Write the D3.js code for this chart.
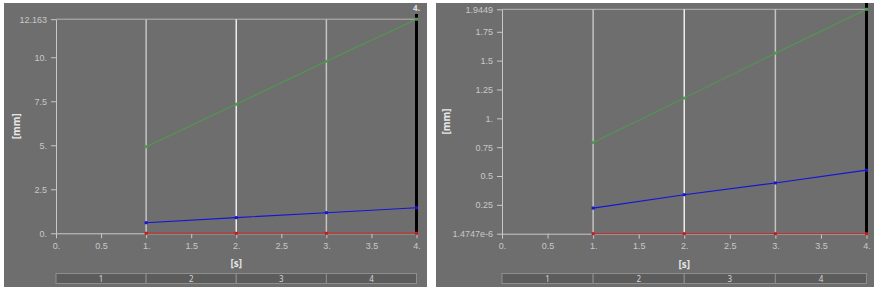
<!DOCTYPE html>
<html>
<head>
<meta charset="utf-8">
<script src="https://cdn.jsdelivr.net/npm/d3@7"></script>
<style>
  body { margin: 0; background: #fff; }
  svg { display: block; font-family: "Noto Sans", "Open Sans", sans-serif; }
</style>
</head>
<body>
<div id="chart-area"></div>
<script>
const width = 874, height = 291;

// Data
const times = [1, 2, 3, 4];
const steps = ["1", "2", "3", "4"];
const xTicks = [0, 0.5, 1, 1.5, 2, 2.5, 3, 3.5, 4];
const xTickLabels = ["0.", "0.5", "1.", "1.5", "2.", "2.5", "3.", "3.5", "4."];

const leftGreen = [4.92, 7.33, 9.77, 12.163];
const leftBlue = [0.60, 0.89, 1.17, 1.45];
const leftRed = [0, 0, 0, 0];
const leftYTicks = [0, 2.5, 5, 7.5, 10, 12.163];
const leftYLabels = ["0.", "2.5", "5.", "7.5", "10.", "12.163"];

const rightGreen = [0.79, 1.175, 1.565, 1.9449];
const rightBlue = [0.222, 0.338, 0.44, 0.551];
const rightRed = [0.0000014747, 0.0000014747, 0.0000014747, 0.0000014747];
const rightYTicks = [0.0000014747, 0.25, 0.5, 0.75, 1, 1.25, 1.5, 1.75, 1.9449];
const rightYLabels = ["1.4747e-6", "0.25", "0.5", "0.75", "1.", "1.25", "1.5", "1.75", "1.9449"];

const seriesColors = {green: "#4f9a4f", blue: "#1515d8", red: "#c41a1a"};

const svg = d3.select("#chart-area").append("svg")
    .attr("width", width)
    .attr("height", height);

function drawPanel(p) {
    const g = svg.append("g");

    g.append("rect")
        .attr("x", p.box[0]).attr("y", p.box[1])
        .attr("width", p.box[2]).attr("height", p.box[3])
        .attr("fill", "#6e6e6e");

    const x = d3.scaleLinear().domain([0, 4]).range(p.xRange);
    const y = d3.scaleLinear().domain(d3.extent(p.yTicks)).range(p.yRange);

    const top = y(p.yTicks[p.yTicks.length - 1]), bottom = y(p.yTicks[0]);

    // top frame line
    g.append("line")
        .attr("x1", x(0)).attr("x2", x(4))
        .attr("y1", top).attr("y2", top)
        .attr("stroke", "#b4b4b4");

    // vertical grid lines at steps
    g.selectAll(".grid")
        .data([1, 2, 3])
        .join("line")
        .attr("x1", d => x(d)).attr("x2", d => x(d))
        .attr("y1", top).attr("y2", bottom)
        .attr("stroke", d => d === 2 ? "#ececec" : "#c4c4c4")
        .attr("stroke-width", 1.5);

    // y axis
    const yAxis = d3.axisLeft(y)
        .tickValues(p.yTicks)
        .tickFormat((d, i) => p.yLabels[i])
        .tickSize(5).tickSizeOuter(0).tickPadding(4);
    g.append("g")
        .attr("transform", `translate(${x(0)},0)`)
        .call(yAxis)
        .call(a => a.select(".domain").attr("stroke", "#c8c8c8"))
        .call(a => a.selectAll("line").attr("stroke", "#c8c8c8"))
        .call(a => a.selectAll("text").attr("fill", "#c8c8c8").attr("font-size", 9));

    // x axis
    const xAxis = d3.axisBottom(x)
        .tickValues(xTicks)
        .tickFormat((d, i) => xTickLabels[i])
        .tickSize(5).tickSizeOuter(0).tickPadding(4);
    g.append("g")
        .attr("transform", `translate(0,${bottom})`)
        .call(xAxis)
        .call(a => a.select(".domain").attr("stroke", "#c8c8c8"))
        .call(a => a.selectAll("line").attr("stroke", "#c8c8c8"))
        .call(a => a.selectAll("text").attr("fill", "#c8c8c8").attr("font-size", 9));

    // axis titles
    g.append("text")
        .attr("transform", `translate(${p.yTitleX},${(top + bottom) / 2}) rotate(-90)`)
        .attr("text-anchor", "middle")
        .attr("fill", "#e6e6e6")
        .attr("font-size", 10)
        .attr("font-weight", "bold")
        .text("[mm]");
    g.append("text")
        .attr("x", x(2)).attr("y", bottom + 34)
        .attr("text-anchor", "middle")
        .attr("fill", "#e6e6e6")
        .attr("font-size", 10)
        .attr("font-weight", "bold")
        .text("[s]");

    // series
    const line = d3.line()
        .x((d, i) => x(times[i]))
        .y(d => y(d));

    const series = [
        {values: p.red, color: seriesColors.red},
        {values: p.blue, color: seriesColors.blue},
        {values: p.green, color: seriesColors.green}
    ];

    series.forEach(s => {
        g.append("path")
            .attr("d", line(s.values))
            .attr("fill", "none")
            .attr("stroke", s.color)
            .attr("stroke-width", 1.1);
    });

    // cursor at last step
    g.append("line")
        .attr("x1", x(4)).attr("x2", x(4))
        .attr("y1", p.cursorTop).attr("y2", bottom)
        .attr("stroke", "#000")
        .attr("stroke-width", 3);
    if (p.cursorLabel) {
        g.append("text")
            .attr("x", x(4)).attr("y", p.cursorTop - 3)
            .attr("text-anchor", "middle")
            .attr("fill", "#e0e0e0")
            .attr("font-size", 8)
            .attr("font-weight", "bold")
            .text("4.");
    }

    // markers
    series.forEach(s => {
        g.selectAll(null)
            .data(s.values)
            .join("rect")
            .attr("x", (d, i) => x(times[i]) - 1.5)
            .attr("y", d => y(d) - 1.5)
            .attr("width", 3).attr("height", 3)
            .attr("fill", s.color);
    });

    // step band
    const bandY = p.bandY, bandH = 10;
    g.selectAll(".step")
        .data(steps)
        .join("rect")
        .attr("x", (d, i) => x(i))
        .attr("y", bandY)
        .attr("width", x(1) - x(0))
        .attr("height", bandH)
        .attr("fill", "#5c5c5c")
        .attr("stroke", "#8e8e8e")
        .attr("stroke-width", 1);
    g.selectAll(".stepLabel")
        .data(steps)
        .join("text")
        .attr("x", (d, i) => x(i + 0.5))
        .attr("y", bandY + 8.5)
        .attr("text-anchor", "middle")
        .attr("fill", "#d4d4d4")
        .attr("font-size", 8)
        .text(d => d);
}

drawPanel({
    box: [4, 3, 423, 284],
    xRange: [56, 416.5],
    yRange: [233.3, 19.2],
    yTicks: leftYTicks, yLabels: leftYLabels,
    green: leftGreen, blue: leftBlue, red: leftRed,
    yTitleX: 20, cursorTop: 14, cursorLabel: true, bandY: 273.5
});

drawPanel({
    box: [436, 3, 438, 284],
    xRange: [502, 866.5],
    yRange: [233.7, 9.3],
    yTicks: rightYTicks, yLabels: rightYLabels,
    green: rightGreen, blue: rightBlue, red: rightRed,
    yTitleX: 450, cursorTop: 3, cursorLabel: false, bandY: 273.5
});
</script>
</body>
</html>
